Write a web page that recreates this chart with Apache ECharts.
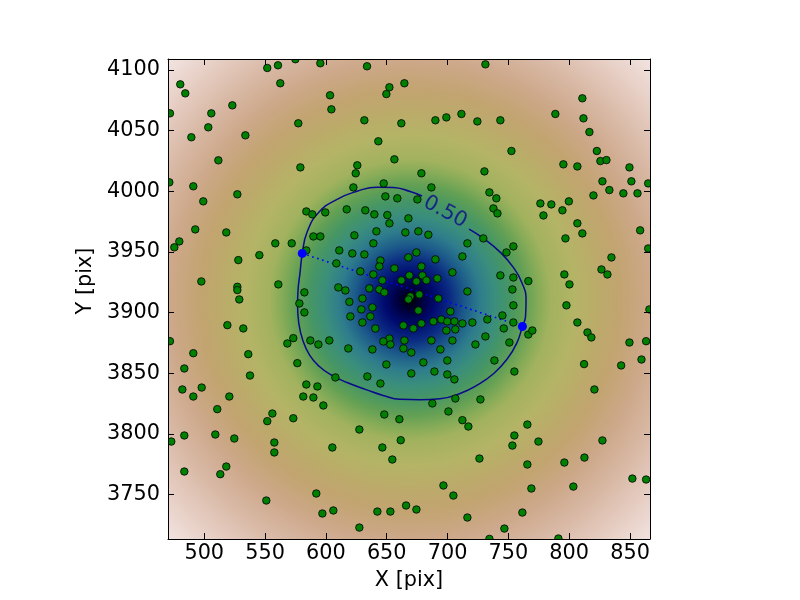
<!DOCTYPE html>
<html><head><meta charset="utf-8">
<script src="https://cdn.jsdelivr.net/npm/echarts@6/dist/echarts.min.js"></script>
<style>html,body{margin:0;padding:0;background:#fff}#c{width:800px;height:600px}</style>
</head><body><div id="c"></div>
<script>
// ---- data ----
const xRange = [470.2, 866.4];
const yRange = [3713.5, 4109.0];
const xTicks = [500, 550, 600, 650, 700, 750, 800, 850];
const yTicks = [3750, 3800, 3850, 3900, 3950, 4000, 4050, 4100];
const densityPeakXY = [669.2, 3910.3];

const sourcesXY = [
[551.8,4101.6],[560.6,4103.8],[574.9,4108.8],[595.4,4105.5],[633.8,4103.0],[480.3,4088.1],[484.4,4080.7],[562.5,4089.0],
[603.4,4079.1],[604.5,4067.5],[652.2,4085.7],[649.7,4080.1],[664.5,4089.0],[471.8,4064.2],[505.8,4064.2],[523.1,4070.8],
[503.3,4052.7],[489.4,4044.5],[533.8,4046.1],[577.3,4056.0],[631.6,4058.5],[662.0,4056.0],[643.1,4041.2],[511.6,4025.5],
[656.3,4026.3],[579.0,4019.7],[625.8,4021.4],[624.5,4014.8],[471.3,4007.4],[491.0,4004.1],[527.2,3997.5],[499.2,3991.7],
[492.6,3968.6],[518.1,3966.1],[475.4,3953.8],[479.5,3958.7],[528.0,3943.3],[545.3,3947.4],[497.6,3925.7],[527.2,3921.3],
[527.2,3918.6],[560.9,3923.3],[558.4,3957.1],
[731.1,4104.6],[810.8,4076.6],[811.7,4060.1],[816.6,4048.8],[690.0,4058.5],[699.0,4060.9],[711.4,4063.7],[724.5,4057.6],
[743.4,4058.5],[788.6,4063.7],[752.5,4033.2],[822.7,4033.2],[825.6,4024.9],[830.6,4025.7],[849.5,4019.7],[795.2,4022.2],
[806.7,4020.5],[678.5,4014.8],[730.3,4016.4],[827.3,4008.2],[851.1,4008.2],[833.0,4001.0],[844.5,3998.3],[856.1,3998.3],
[864.9,4006.5],[819.9,3996.6],[776.3,3990.0],[785.3,3989.2],[799.7,3991.7],[794.4,3984.3],[778.8,3980.1],[806.7,3973.6],
[810.8,3965.3],[796.9,3961.2],[858.3,3967.8],[864.9,3952.9],[834.7,3945.5],[826.5,3935.6],[831.4,3931.5],[796.0,3931.5],
[800.2,3923.3],
[528.8,3910.9],[471.8,3876.5],[519.0,3889.7],[532.1,3887.0],[491.0,3866.6],[536.2,3865.8],[483.6,3854.0],[537.6,3848.2],
[482.0,3836.7],[497.9,3838.3],[491.0,3830.9],[520.6,3830.9],[510.7,3820.5],[551.8,3810.6],[556.0,3816.9],[483.6,3798.8],
[472.9,3793.8],[509.1,3799.6],[524.7,3796.3],[557.6,3793.0],[557.6,3784.8],[483.6,3769.1],[518.1,3773.2],[513.2,3766.9],
[605.3,3788.9],[627.5,3803.7],[646.4,3788.9],[654.6,3779.0],[592.1,3751.0],[551.0,3745.2],[597.1,3734.5],[606.1,3737.0],
[642.3,3736.1],[653.0,3736.1],[665.9,3741.1],[627.5,3722.9],[661.5,3794.9],[568.3,3874.6],
[797.7,3906.0],[806.7,3891.9],[815.0,3883.7],[818.2,3879.6],[849.5,3875.4],[863.2,3876.5],[865.9,3902.7],[812.2,3857.6],
[842.7,3856.5],[859.4,3861.4],[820.7,3836.7],[827.3,3794.7],[765.6,3807.8],[754.9,3798.8],[753.3,3790.5],[774.7,3793.8],
[765.6,3774.9],[796.0,3776.5],[812.5,3780.6],[726.2,3779.8],[696.6,3757.6],[704.8,3749.3],[768.9,3755.1],[803.4,3756.7],
[851.9,3763.3],[863.2,3762.5],[674.4,3737.8],[716.3,3731.2],[761.5,3735.3],[746.7,3722.1],[734.4,3713.6],[791.1,3713.9],
[717.1,3806.2],
[622.6,4003.2],[647.5,4006.5],[648.9,3995.8],[658.7,3994.2],[583.9,3983.4],[588.8,3981.0],[599.5,3982.6],[617.1,3985.1],
[632.4,3984.3],[639.8,3981.0],[650.5,3980.4],[652.2,3973.6],[667.8,3977.7],[589.7,3962.8],[595.4,3962.8],[571.9,3957.1],
[623.4,3963.7],[641.5,3967.0],[665.3,3966.1],[639.0,3957.1],[583.9,3951.3],[611.0,3951.3],[621.7,3948.8],[608.6,3940.6],
[610.2,3920.8],[616.0,3918.3],[582.3,3916.7],
[686.7,4003.2],[675.2,3993.3],[734.4,3999.1],[740.1,3994.2],[737.7,3985.9],[741.0,3981.8],[676.0,3967.0],[684.2,3964.2],
[716.3,3957.1],[729.4,3961.2],[748.4,3949.6],[754.1,3954.6],[743.4,3930.7],[754.1,3929.0],[766.4,3926.0],[753.3,3919.1],
[716.3,3917.5],
[578.2,3907.6],[582.3,3900.2],[619.3,3908.9],[573.2,3879.0],[587.2,3877.1],[593.8,3873.8],[602.8,3877.1],[618.4,3870.5],
[620.1,3896.9],[576.5,3858.4],[649.7,3857.3],[670.2,3849.9],[634.1,3847.4],[644.8,3841.6],[607.8,3846.6],[583.9,3840.8],
[593.0,3839.2],[581.4,3830.9],[589.7,3830.1],[597.9,3823.5],[573.2,3813.0],[648.0,3816.1],[660.4,3812.2],
[754.1,3906.0],[745.1,3897.7],[754.1,3891.9],[732.7,3894.4],[720.4,3891.9],[746.2,3887.0],[731.1,3880.4],[750.8,3875.4],
[722.9,3873.8],[766.4,3882.0],[769.7,3885.3],[738.5,3860.6],[754.9,3851.5],[699.8,3860.6],[680.1,3859.0],[689.2,3851.5],
[699.8,3849.1],[705.6,3845.0],[706.4,3829.3],[727.0,3828.5],[687.5,3825.2],[700.7,3818.6],[712.2,3811.4],
[631.6,3948.0],[644.8,3943.0],[643.9,3938.1],[667.8,3945.5],[674.4,3949.6],[690.0,3943.9],[712.2,3946.3],[628.3,3934.0],
[639.0,3931.5],[656.3,3936.5],[678.5,3938.1],[704.0,3933.2],[668.6,3930.7],[679.3,3930.7],[691.6,3928.2],[646.4,3926.6],
[662.0,3926.6],[674.4,3925.7],[682.6,3926.6],[635.7,3920.0],[643.9,3919.1],[648.0,3916.7],[630.0,3911.7],[669.4,3913.4],
[667.8,3910.9],[676.8,3915.0],[692.4,3911.7],[638.2,3904.3],[629.1,3902.7],[676.0,3901.8],[702.3,3901.0],[636.5,3896.9],
[630.0,3891.9],[640.6,3887.0],[663.7,3889.5],[671.9,3887.0],[678.5,3891.1],[688.3,3892.8],[694.9,3894.4],[699.8,3892.8],
[705.6,3892.8],[712.2,3891.1],[706.4,3886.2],[699.0,3885.3],[652.2,3878.7],[647.2,3876.3],[653.0,3873.8],[664.5,3877.1],
[686.7,3877.1],[704.0,3877.1],[638.2,3869.7],[663.7,3870.5],[670.2,3867.2],[694.1,3869.7]
];

const contourXY = [
[717.7,3968.9],[729.2,3961.4],[743.2,3949.9],[753.9,3937.5],[761.3,3924.3],[764.5,3910.3],[764.1,3897.1],[761.5,3888.6],
[756.9,3874.9],[748.9,3861.7],[738.2,3850.1],[724.3,3840.2],[710.3,3833.4],[693.8,3829.1],[677.4,3828.3],[661.0,3828.6],
[647.0,3831.8],[633.0,3836.6],[617.4,3842.4],[605.0,3848.4],[594.6,3855.6],[586.6,3865.0],[581.0,3877.3],[577.7,3891.4],
[576.7,3906.2],[577.1,3918.6],[578.7,3932.6],[580.6,3948.8],[584.5,3966.2],[594.2,3982.7],[609.6,3993.6],[625.6,4000.0],
[642.0,4003.4],[655.2,4003.2],[669.2,3999.8],[679.0,3996.1]
];
const contourLabel = '0.50';
const contourLabelXY = [698.0, 3982.9];
const pairXY = [[580.6, 3948.8], [761.5, 3888.6]];

// ---- chart ----
const FONT = 'DejaVu Sans';
const FS = 20.8;
const navy = '#0a0a8c';
const GRID = {left: 168, top: 59, width: 482, height: 480};
const isTick = (list) => (v) => list.some(t => Math.abs(t - v) < 1e-6) ? String(Math.round(v)) : '';

const cx = (densityPeakXY[0] - xRange[0]) / (xRange[1] - xRange[0]);
const cy = (yRange[1] - densityPeakXY[1]) / (yRange[1] - yRange[0]);
const bg = {
  type: 'radial', x: cx, y: cy, r: 0.771, global: false,
  colorStops: [
    [0, '#000000'], [0.032, '#00003c'], [0.068, '#000a6e'], [0.108, '#0a2a82'], [0.149, '#1c5a8a'],
    [0.189, '#2e7c8c'], [0.23, '#3a8e7c'], [0.27, '#469664'], [0.311, '#62a054'], [0.35, '#88ac58'],
    [0.38, '#a2b25e'], [0.446, '#b4b466'], [0.514, '#bcaa6a'], [0.568, '#c2a470'], [0.649, '#cda88a'],
    [0.73, '#d8b8a4'], [0.811, '#e4cabe'], [0.905, '#f0e0dc'], [1, '#fbf6f6']
  ].map(s => ({offset: s[0], color: s[1]}))
};

function xAx(pos) {
  return {
    type: 'value', min: xRange[0], max: xRange[1], splitNumber: 8, position: pos, z: 10,
    axisLine: {show: true, onZero: false, lineStyle: {color: '#000', width: 1}},
    axisTick: {show: true, inside: true, length: 6, lineStyle: {color: '#000', width: 1}},
    axisLabel: {show: pos === 'bottom', formatter: isTick(xTicks), fontSize: FS, fontFamily: FONT, color: '#000', margin: 4,
      showMinLabel: false, showMaxLabel: false},
    splitLine: {show: false},
    name: pos === 'bottom' ? 'X [pix]' : '', nameLocation: 'middle', nameGap: 31,
    nameTextStyle: {fontSize: FS, fontFamily: FONT, color: '#000'}
  };
}
function yAx(pos) {
  return {
    type: 'value', min: yRange[0], max: yRange[1], splitNumber: 8, position: pos, z: 10,
    axisLine: {show: true, onZero: false, lineStyle: {color: '#000', width: 1}},
    axisTick: {show: true, inside: true, length: 6, lineStyle: {color: '#000', width: 1}},
    axisLabel: {show: pos === 'left', formatter: isTick(yTicks), fontSize: FS, fontFamily: FONT, color: '#000', margin: 8,
      showMinLabel: false, showMaxLabel: false},
    splitLine: {show: false},
    name: pos === 'left' ? 'Y [pix]' : '', nameLocation: 'middle', nameGap: 68, nameRotate: 90,
    nameTextStyle: {fontSize: FS, fontFamily: FONT, color: '#000', padding: [0, 0, 0, 36]}
  };
}

// white frame outside the plotting area so that marks are clipped like the axes of the original
const R = GRID.left + GRID.width, B = GRID.top + GRID.height;
const mask = [
  {x: 0, y: 0, width: 800, height: GRID.top},
  {x: 0, y: B, width: 800, height: 600 - B},
  {x: 0, y: 0, width: GRID.left, height: 600},
  {x: R, y: 0, width: 800 - R, height: 600}
].map(s => ({type: 'rect', shape: s, style: {fill: '#ffffff'}, silent: true, z: 9}));

const chart = echarts.init(document.getElementById('c'), null, {renderer: 'canvas'});
chart.setOption({
  animation: false,
  backgroundColor: '#ffffff',
  grid: Object.assign({show: true, backgroundColor: bg, borderWidth: 0}, GRID),
  xAxis: [xAx('bottom'), xAx('top')],
  yAxis: [yAx('left'), yAx('right')],
  graphic: mask,
  series: [
    {type: 'line', data: contourXY, showSymbol: false, symbol: 'none', smooth: 0.5, z: 2,
     lineStyle: {color: navy, width: 1.5}},
    {type: 'line', data: pairXY, showSymbol: false, symbol: 'none', z: 3,
     lineStyle: {color: '#0000ff', width: 1.6, type: [1.6, 3.6]}},
    {type: 'scatter', data: sourcesXY, symbolSize: 7.5, z: 4,
     itemStyle: {color: '#008000', borderColor: '#000000', borderWidth: 0.8, opacity: 1}},
    {type: 'scatter', data: pairXY, symbolSize: 9, z: 5,
     itemStyle: {color: '#0000ff', opacity: 1}},
    {type: 'scatter', data: [contourLabelXY], symbolSize: 0, z: 6, silent: true,
     label: {show: true, position: 'inside', formatter: contourLabel, rotate: -28,
       fontSize: FS, fontFamily: FONT, color: navy}}
  ]
});
</script></body></html>
